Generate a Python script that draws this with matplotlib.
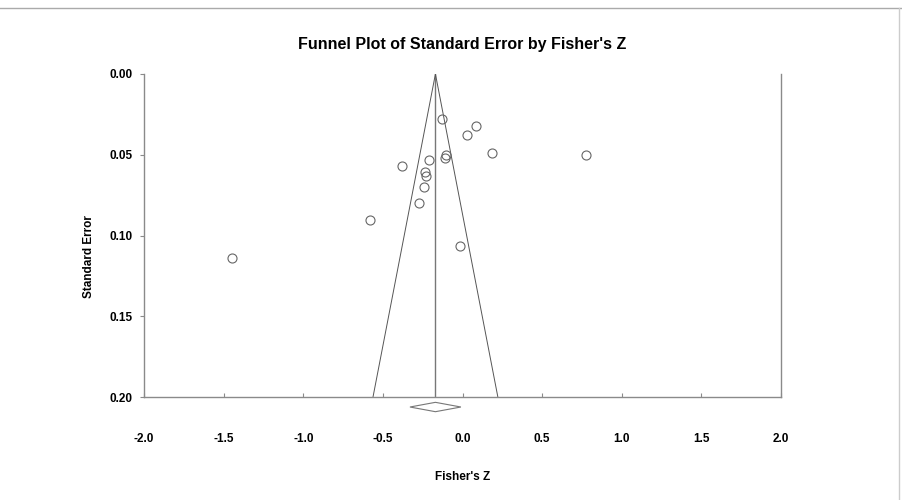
import matplotlib
matplotlib.use("Agg")
import matplotlib.pyplot as plt
from matplotlib.lines import Line2D

plt.rcParams['font.family'] = ['Liberation Sans', 'DejaVu Sans']

# Fisher's Z and standard error per study
fisher_z = [-0.129, 0.085, 0.026, 0.183, 0.774, -0.106, -0.108, -0.210,
            -0.380, -0.234, -0.231, -0.242, -0.275, -0.583, -0.016, -1.446]
std_err = [0.0277, 0.0322, 0.0376, 0.0487, 0.0504, 0.0499, 0.0518, 0.0531,
           0.0570, 0.0605, 0.0630, 0.0700, 0.0797, 0.0906, 0.1067, 0.1141]

# summary effect and its CI (diamond)
pooled_z = -0.17
pooled_low = -0.33
pooled_high = -0.01

x_ticks = [-2.0, -1.5, -1.0, -0.5, 0.0, 0.5, 1.0, 1.5, 2.0]
y_ticks = [0.00, 0.05, 0.10, 0.15, 0.20]
se_max = 0.20

fig = plt.figure(figsize=(9.03, 5.0), dpi=100)
ax = fig.add_axes([144/903, 1-397/500, 637/903, 323/500])

frame_col = '#8a8a8a'
# funnel
ax.plot([pooled_z, pooled_z], [0, se_max], color='#777777', lw=1.0)
ax.plot([pooled_z - 1.96*se_max, pooled_z, pooled_z + 1.96*se_max],
        [se_max, 0, se_max], color='#555555', lw=0.7)

ax.plot(fisher_z, std_err, 'o', ms=6.5, mfc='none', mec='#666666', mew=0.8,
        clip_on=False)

# diamond below the axis
dy = 0.0062
hh = 0.0029
ax.fill([pooled_low, pooled_z, pooled_high, pooled_z],
        [se_max + dy, se_max + dy - hh, se_max + dy, se_max + dy + hh],
        facecolor='white', edgecolor='#777777', lw=0.8, clip_on=False)

ax.set_xlim(-2.0, 2.0)
ax.set_ylim(0.20, 0.0)
ax.set_xticks(x_ticks)
ax.set_xticklabels(['%.1f' % v for v in x_ticks])
ax.set_yticks(y_ticks)
ax.set_yticklabels(['%.2f' % v for v in y_ticks])

for s in ['left', 'bottom', 'right']:
    ax.spines[s].set_color(frame_col)
    ax.spines[s].set_linewidth(1.0)
ax.spines['top'].set_visible(False)

ax.tick_params(axis='x', direction='in', length=3, pad=26, color=frame_col,
               labelsize=8.5)
ax.tick_params(axis='y', direction='out', length=3, pad=5, color=frame_col,
               labelsize=8.5)
for lab in ax.get_xticklabels() + ax.get_yticklabels():
    lab.set_fontweight('bold')

fig.text(462/903, 1-45/500, "Funnel Plot of Standard Error by Fisher's Z",
         ha='center', va='center', fontsize=11.5, fontweight='bold')
fig.text(89/903, 1-257/500, 'Standard Error', ha='center', va='center',
         rotation=90, fontsize=8.5, fontweight='bold')
fig.text(463/903, 1-477/500, "Fisher's Z", ha='center', va='center',
         fontsize=8.5, fontweight='bold')

# thin border of the picture
fig.add_artist(Line2D([0, 1], [1-8/500, 1-8/500], transform=fig.transFigure,
                      color='#aaaaaa', lw=1.0))
fig.add_artist(Line2D([899/903, 899/903], [0, 1-8/500],
                      transform=fig.transFigure, color='#cccccc', lw=1.0))

fig.savefig('out.png', dpi=100)
